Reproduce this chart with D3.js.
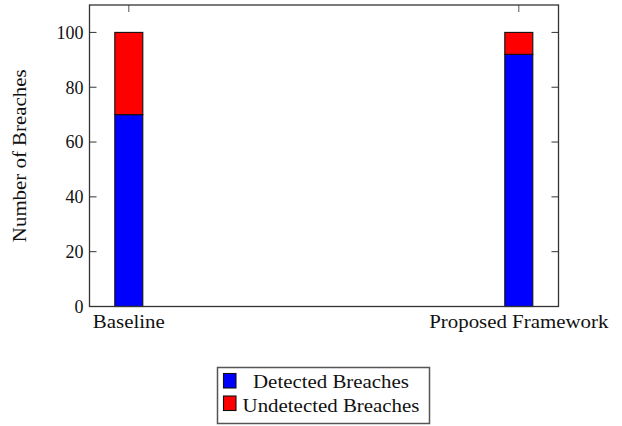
<!DOCTYPE html>
<html>
<head>
<meta charset="utf-8">
<script src="https://cdn.jsdelivr.net/npm/d3@7"></script>
<style>
  html, body { margin: 0; padding: 0; background: #fff; }
  svg text { font-family: "Liberation Serif", "Times New Roman", serif; fill: #111; }
</style>
</head>
<body>
<svg id="chart" width="622" height="426"></svg>
<script>
// Categories and stacked series values
const categories = ["Baseline", "Proposed Framework"];
const detected = [70, 92];
const undetected = [30, 8];
const seriesNames = ["Detected Breaches", "Undetected Breaches"];
const seriesColors = ["#0000ff", "#ff0000"];
const yTicks = [0, 20, 40, 60, 80, 100];

const svg = d3.select("#chart");
const m = { left: 89.5, right: 558.5, top: 5, bottom: 306.5 };

const x = d3.scalePoint().domain(categories).range([128.8, 518.8]);
const y = d3.scaleLinear().domain([0, 110]).range([m.bottom, m.top]);
const barW = 28;
const tickLen = 7;

// widen word labels a little so they set like a book face
function widen(sel, f) {
  sel.each(function () {
    const w = this.getComputedTextLength();
    d3.select(this).attr("textLength", w * f).attr("lengthAdjust", "spacingAndGlyphs");
  });
  return sel;
}

// stacked layers
const rows = categories.map((c, i) => ({ cat: c, "Detected Breaches": detected[i], "Undetected Breaches": undetected[i] }));
const stack = d3.stack().keys(seriesNames)(rows);

// inward ticks on all four sides
const g = svg.append("g");
yTicks.forEach(v => {
  g.append("line").attr("x1", m.left).attr("x2", m.left + tickLen)
    .attr("y1", y(v)).attr("y2", y(v)).attr("stroke", "#333").attr("stroke-width", 1);
  g.append("line").attr("x1", m.right).attr("x2", m.right - tickLen)
    .attr("y1", y(v)).attr("y2", y(v)).attr("stroke", "#333").attr("stroke-width", 1);
});
categories.forEach(c => {
  g.append("line").attr("x1", x(c)).attr("x2", x(c))
    .attr("y1", m.top).attr("y2", m.top + tickLen).attr("stroke", "#555").attr("stroke-width", 1);
  g.append("line").attr("x1", x(c)).attr("x2", x(c))
    .attr("y1", m.bottom).attr("y2", m.bottom - tickLen).attr("stroke", "#555").attr("stroke-width", 1);
});

// bars
stack.forEach((layer, li) => {
  svg.append("g").selectAll("rect").data(layer).join("rect")
    .attr("x", d => x(d.data.cat) - barW / 2)
    .attr("width", barW)
    .attr("y", d => y(d[1]))
    .attr("height", d => y(d[0]) - y(d[1]))
    .attr("fill", seriesColors[li])
    .attr("stroke", "#111")
    .attr("stroke-width", 1.1);
});

// axis frame
svg.append("rect").attr("x", m.left).attr("y", m.top)
  .attr("width", m.right - m.left).attr("height", m.bottom - m.top)
  .attr("fill", "none").attr("stroke", "#333").attr("stroke-width", 1.3);

// y tick labels
yTicks.forEach(v => {
  svg.append("text").attr("x", m.left - 6).attr("y", y(v)).attr("dy", "0.35em")
    .attr("text-anchor", "end").attr("font-size", 18).text(v);
});

// category labels
categories.forEach(c => {
  widen(svg.append("text").attr("x", x(c)).attr("y", 328)
    .attr("text-anchor", "middle").attr("font-size", 18).text(c), 1.16);
});

// y axis title
widen(svg.append("text").attr("transform", `translate(26,${(m.top + m.bottom) / 2}) rotate(-90)`)
  .attr("text-anchor", "middle").attr("font-size", 18).attr("fill", "#222")
  .text("Number of Breaches"), 1.16);

// legend
const lg = svg.append("g");
lg.append("rect").attr("x", 217.5).attr("y", 367.5).attr("width", 212).attr("height", 56)
  .attr("fill", "#fff").attr("stroke", "#555").attr("stroke-width", 1.5);
seriesNames.forEach((n, i) => {
  lg.append("rect").attr("x", 223.5).attr("y", 373.5 + i * 22.5).attr("width", 12.5).attr("height", 14.5)
    .attr("fill", seriesColors[i]).attr("stroke", "#111").attr("stroke-width", 1.1);
  widen(lg.append("text").attr("x", 331).attr("y", 388 + i * 23.5)
    .attr("text-anchor", "middle").attr("font-size", 18).text(n), 1.16);
});
</script>
</body>
</html>
